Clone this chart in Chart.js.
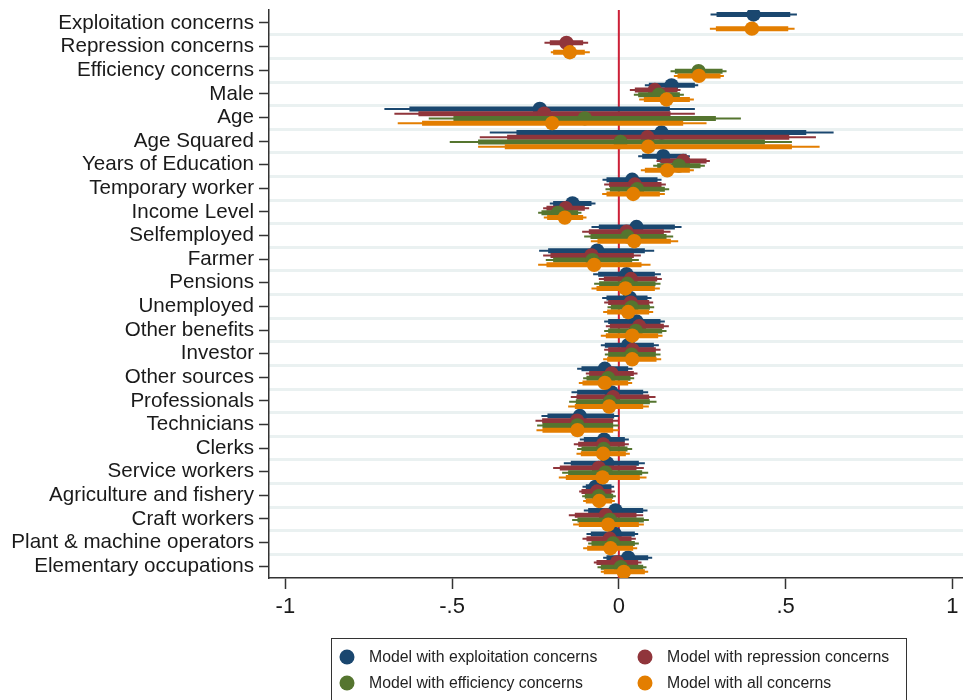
<!DOCTYPE html>
<html>
<head>
<meta charset="utf-8">
<script src="https://cdn.jsdelivr.net/npm/chart.js@4/dist/chart.umd.min.js"></script>
<style>
  html, body { margin: 0; padding: 0; background: #fff; }
  canvas { display: block; }
</style>
</head>
<body>
<canvas id="coefChart" width="963" height="700"></canvas>
<script>
// Coefficient plot data
const variables = [
    'Exploitation concerns', 'Repression concerns', 'Efficiency concerns', 'Male', 'Age',
    'Age Squared', 'Years of Education', 'Temporary worker', 'Income Level', 'Selfemployed',
    'Farmer', 'Pensions', 'Unemployed', 'Other benefits', 'Investor', 'Other sources',
    'Professionals', 'Technicians', 'Clerks', 'Service workers', 'Agriculture and fishery',
    'Craft workers', 'Plant & machine operators', 'Elementary occupations'
];
const modelNames = [
    'Model with exploitation concerns', 'Model with repression concerns',
    'Model with efficiency concerns', 'Model with all concerns'
];
const modelColors = ['#1a476f', '#90353b', '#55752f', '#e37e00'];
const xTicks = [-1, -0.5, 0, 0.5, 1];

// model 1: exploitation concerns
const coefExpl = [0.404, null, null, 0.158, -0.237, 0.128, 0.133, 0.040, -0.139, 0.053, -0.065, 0.023, 0.033, 0.053, 0.028, -0.042, -0.022, -0.117, -0.044, -0.035, -0.070, -0.010, -0.012, 0.028];
const lo95Expl = [0.275, null, null, 0.078, -0.703, -0.387, 0.058, -0.049, -0.207, -0.082, -0.239, -0.077, -0.050, -0.044, -0.054, -0.125, -0.142, -0.232, -0.117, -0.165, -0.109, -0.105, -0.097, -0.047];
const hi95Expl = [0.534, null, null, 0.238, 0.228, 0.644, 0.213, 0.128, -0.070, 0.188, 0.106, 0.126, 0.098, 0.138, 0.120, 0.041, 0.088, 0.000, 0.030, 0.078, -0.014, 0.086, 0.058, 0.100];
const lo90Expl = [0.293, null, null, 0.090, -0.628, -0.307, 0.070, -0.037, -0.197, -0.060, -0.212, -0.062, -0.037, -0.032, -0.042, -0.112, -0.125, -0.214, -0.105, -0.144, -0.099, -0.092, -0.084, -0.037];
const hi90Expl = [0.514, null, null, 0.228, 0.153, 0.562, 0.203, 0.116, -0.082, 0.168, 0.078, 0.108, 0.086, 0.125, 0.105, 0.028, 0.073, -0.014, 0.018, 0.060, -0.022, 0.073, 0.048, 0.088];

// model 2: repression concerns
const coefRepr = [null, -0.157, null, 0.108, -0.224, 0.086, 0.193, 0.048, -0.159, 0.023, -0.082, 0.036, 0.036, 0.061, 0.041, -0.022, -0.017, -0.125, -0.047, -0.060, -0.065, -0.039, -0.027, -0.005];
const lo95Repr = [null, -0.223, null, 0.033, -0.673, -0.417, 0.113, -0.044, -0.227, -0.110, -0.227, -0.060, -0.044, -0.039, -0.044, -0.099, -0.144, -0.250, -0.135, -0.197, -0.119, -0.150, -0.109, -0.075];
const hi95Repr = [null, -0.092, null, 0.185, 0.228, 0.591, 0.273, 0.141, -0.089, 0.155, 0.066, 0.129, 0.103, 0.150, 0.125, 0.056, 0.110, -0.002, 0.030, 0.075, -0.012, 0.073, 0.051, 0.068];
const lo90Repr = [null, -0.207, null, 0.048, -0.601, -0.335, 0.126, -0.029, -0.217, -0.090, -0.205, -0.045, -0.032, -0.027, -0.032, -0.089, -0.127, -0.230, -0.122, -0.177, -0.112, -0.132, -0.097, -0.067];
const hi90Repr = [null, -0.107, null, 0.176, 0.155, 0.511, 0.263, 0.128, -0.102, 0.135, 0.045, 0.115, 0.091, 0.135, 0.111, 0.045, 0.091, -0.017, 0.018, 0.053, -0.022, 0.053, 0.038, 0.058];

// model 3: efficiency concerns
const coefEffi = [null, null, 0.239, 0.120, -0.102, 0.005, 0.180, 0.055, -0.182, 0.026, -0.079, 0.026, 0.038, 0.051, 0.038, -0.032, -0.027, -0.124, -0.045, -0.040, -0.060, -0.027, -0.017, 0.006];
const lo95Effi = [null, null, 0.155, 0.045, -0.570, -0.507, 0.103, -0.040, -0.242, -0.104, -0.219, -0.074, -0.034, -0.044, -0.042, -0.107, -0.149, -0.245, -0.125, -0.170, -0.110, -0.140, -0.092, -0.064];
const hi95Effi = [null, null, 0.323, 0.195, 0.366, 0.519, 0.258, 0.151, -0.112, 0.163, 0.060, 0.125, 0.106, 0.143, 0.125, 0.046, 0.113, 0.000, 0.040, 0.088, -0.009, 0.090, 0.060, 0.083];
const lo90Effi = [null, null, 0.168, 0.058, -0.496, -0.422, 0.115, -0.027, -0.232, -0.085, -0.197, -0.059, -0.024, -0.032, -0.032, -0.097, -0.129, -0.229, -0.112, -0.152, -0.102, -0.124, -0.082, -0.054];
const hi90Effi = [null, null, 0.311, 0.183, 0.291, 0.438, 0.245, 0.138, -0.122, 0.143, 0.040, 0.110, 0.093, 0.130, 0.111, 0.035, 0.093, -0.017, 0.026, 0.070, -0.017, 0.075, 0.048, 0.073];

// model 4: all concerns
const coefAll = [0.399, -0.147, 0.240, 0.143, -0.200, 0.088, 0.145, 0.043, -0.162, 0.046, -0.074, 0.020, 0.028, 0.040, 0.040, -0.042, -0.029, -0.124, -0.047, -0.049, -0.059, -0.032, -0.025, 0.015];
const lo95All = [0.273, -0.204, 0.165, 0.061, -0.663, -0.422, 0.066, -0.050, -0.225, -0.084, -0.242, -0.082, -0.047, -0.054, -0.047, -0.120, -0.152, -0.247, -0.127, -0.180, -0.107, -0.137, -0.107, -0.054];
const hi95All = [0.527, -0.087, 0.315, 0.225, 0.263, 0.602, 0.225, 0.138, -0.097, 0.178, 0.095, 0.123, 0.103, 0.131, 0.127, 0.040, 0.090, 0.000, 0.033, 0.083, -0.012, 0.075, 0.055, 0.088];
const lo90All = [0.291, -0.197, 0.176, 0.075, -0.590, -0.342, 0.078, -0.037, -0.215, -0.064, -0.217, -0.067, -0.035, -0.039, -0.035, -0.109, -0.132, -0.229, -0.114, -0.159, -0.099, -0.120, -0.095, -0.045];
const hi90All = [0.508, -0.102, 0.305, 0.213, 0.193, 0.519, 0.213, 0.123, -0.107, 0.156, 0.068, 0.108, 0.091, 0.118, 0.113, 0.028, 0.073, -0.017, 0.021, 0.063, -0.020, 0.060, 0.043, 0.078];

const models = [
    { coef: coefExpl, lo95: lo95Expl, hi95: hi95Expl, lo90: lo90Expl, hi90: hi90Expl },
    { coef: coefRepr, lo95: lo95Repr, hi95: hi95Repr, lo90: lo90Repr, hi90: hi90Repr },
    { coef: coefEffi, lo95: lo95Effi, hi95: hi95Effi, lo90: lo90Effi, hi90: hi90Effi },
    { coef: coefAll, lo95: lo95All, hi95: hi95All, lo90: lo90All, hi90: hi90All }
];
const modelOffsets = [-0.36, -0.16, 0.04, 0.24];

const Y_MIN = -0.55, Y_MAX = 23.5;
const FONT = '"Liberation Sans", Arial, Helvetica, sans-serif';

function ciSegments(lo, hi, coef, off) {
    const pts = [];
    coef.forEach((c, i) => {
        if (c === null) return;
        pts.push({ x: lo[i], y: i + off }, { x: hi[i], y: i + off }, { x: NaN, y: NaN });
    });
    return pts;
}

function pointData(coef, off) {
    return coef.map((c, i) => c === null ? null : { x: c, y: i + off }).filter(p => p);
}

// datasets in drawing order (first = bottom)
const drawList = [];
drawList.push({
    label: 'zero',
    data: [{ x: 0, y: Y_MIN }, { x: 0, y: Y_MAX }],
    showLine: true, borderColor: '#cc2037', borderWidth: 2, pointRadius: 0
});
models.forEach((m, k) => {
    const col = modelColors[k];
    drawList.push({
        label: modelNames[k] + ' 95',
        data: ciSegments(m.lo95, m.hi95, m.coef, modelOffsets[k]),
        showLine: true, spanGaps: false, borderColor: col, borderWidth: 2, pointRadius: 0
    });
    drawList.push({
        label: modelNames[k] + ' 90',
        data: ciSegments(m.lo90, m.hi90, m.coef, modelOffsets[k]),
        showLine: true, spanGaps: false, borderColor: col, borderWidth: 5, pointRadius: 0
    });
    drawList.push({
        label: modelNames[k],
        data: pointData(m.coef, modelOffsets[k]),
        showLine: false, pointRadius: 7.2, pointHoverRadius: 7.2,
        pointBackgroundColor: col, pointBorderWidth: 0, borderColor: col, legendDot: true
    });
});
// Chart.js draws lower order on top
drawList.forEach((d, i) => { d.order = 100 - i; });

// legend box drawn below the axis, two columns
const boxLegend = {
    id: 'boxLegend',
    afterDraw(chart) {
        const ctx = chart.ctx;
        const dots = chart.data.datasets.filter(d => d.legendDot);
        ctx.save();
        ctx.strokeStyle = '#333';
        ctx.lineWidth = 1;
        ctx.strokeRect(331.5, 638.5, 575, 80);
        const colX = [347, 645], rowY = [657, 683];
        ctx.font = '15.8px ' + FONT;
        ctx.textBaseline = 'middle';
        dots.forEach((d, i) => {
            const x = colX[i % 2], y = rowY[Math.floor(i / 2)];
            ctx.fillStyle = d.pointBackgroundColor;
            ctx.beginPath();
            ctx.arc(x, y, 7.5, 0, Math.PI * 2);
            ctx.fill();
            ctx.fillStyle = '#222';
            ctx.fillText(d.label, x + 22, y + 1);
        });
        ctx.restore();
    }
};

const ctx = document.getElementById('coefChart').getContext('2d');
new Chart(ctx, {
    type: 'scatter',
    data: { datasets: drawList },
    plugins: [boxLegend],
    options: {
        responsive: false,
        animation: false,
        events: [],
        layout: { autoPadding: false, padding: { top: 10, right: 0, bottom: 0, left: 0 } },
        plugins: { legend: { display: false }, tooltip: { enabled: false } },
        scales: {
            x: {
                type: 'linear', min: -1.049, max: 1.032,
                afterBuildTicks: axis => { axis.ticks = xTicks.map(v => ({ value: v })); },
                afterFit: axis => { axis.height = 122; axis.paddingLeft = 0; axis.paddingRight = 0; },
                ticks: {
                    color: '#1a1a1a', padding: 5,
                    font: { family: FONT, size: 22 },
                    callback: v => v === 0 ? '0' : String(v).replace('0.', '.')
                },
                grid: { drawOnChartArea: false, tickLength: 11, color: '#333', tickWidth: 1.5 },
                border: { color: '#333', width: 1.5 }
            },
            y: {
                type: 'linear', reverse: true, min: Y_MIN, max: Y_MAX,
                afterBuildTicks: axis => { axis.ticks = variables.map((_, i) => ({ value: i })); },
                afterFit: axis => { axis.width = 269; axis.paddingTop = 0; axis.paddingBottom = 0; },
                ticks: {
                    color: '#1a1a1a', padding: 5, autoSkip: false,
                    font: { family: FONT, size: 20.6 },
                    callback: v => variables[v]
                },
                grid: { drawOnChartArea: false, tickLength: 10, color: '#333', tickWidth: 1.5 },
                border: { color: '#333', width: 1.5 }
            },
            yGrid: {
                type: 'linear', position: 'left', reverse: true, min: Y_MIN, max: Y_MAX,
                afterBuildTicks: axis => { axis.ticks = variables.slice(1).map((_, i) => ({ value: i + 0.5 })); },
                afterFit: axis => { axis.width = 0; axis.paddingTop = 0; axis.paddingBottom = 0; },
                ticks: { display: false },
                grid: { drawTicks: false, color: '#eaf1f1', lineWidth: 3 },
                border: { display: false }
            }
        }
    }
});
</script>
</body>
</html>
